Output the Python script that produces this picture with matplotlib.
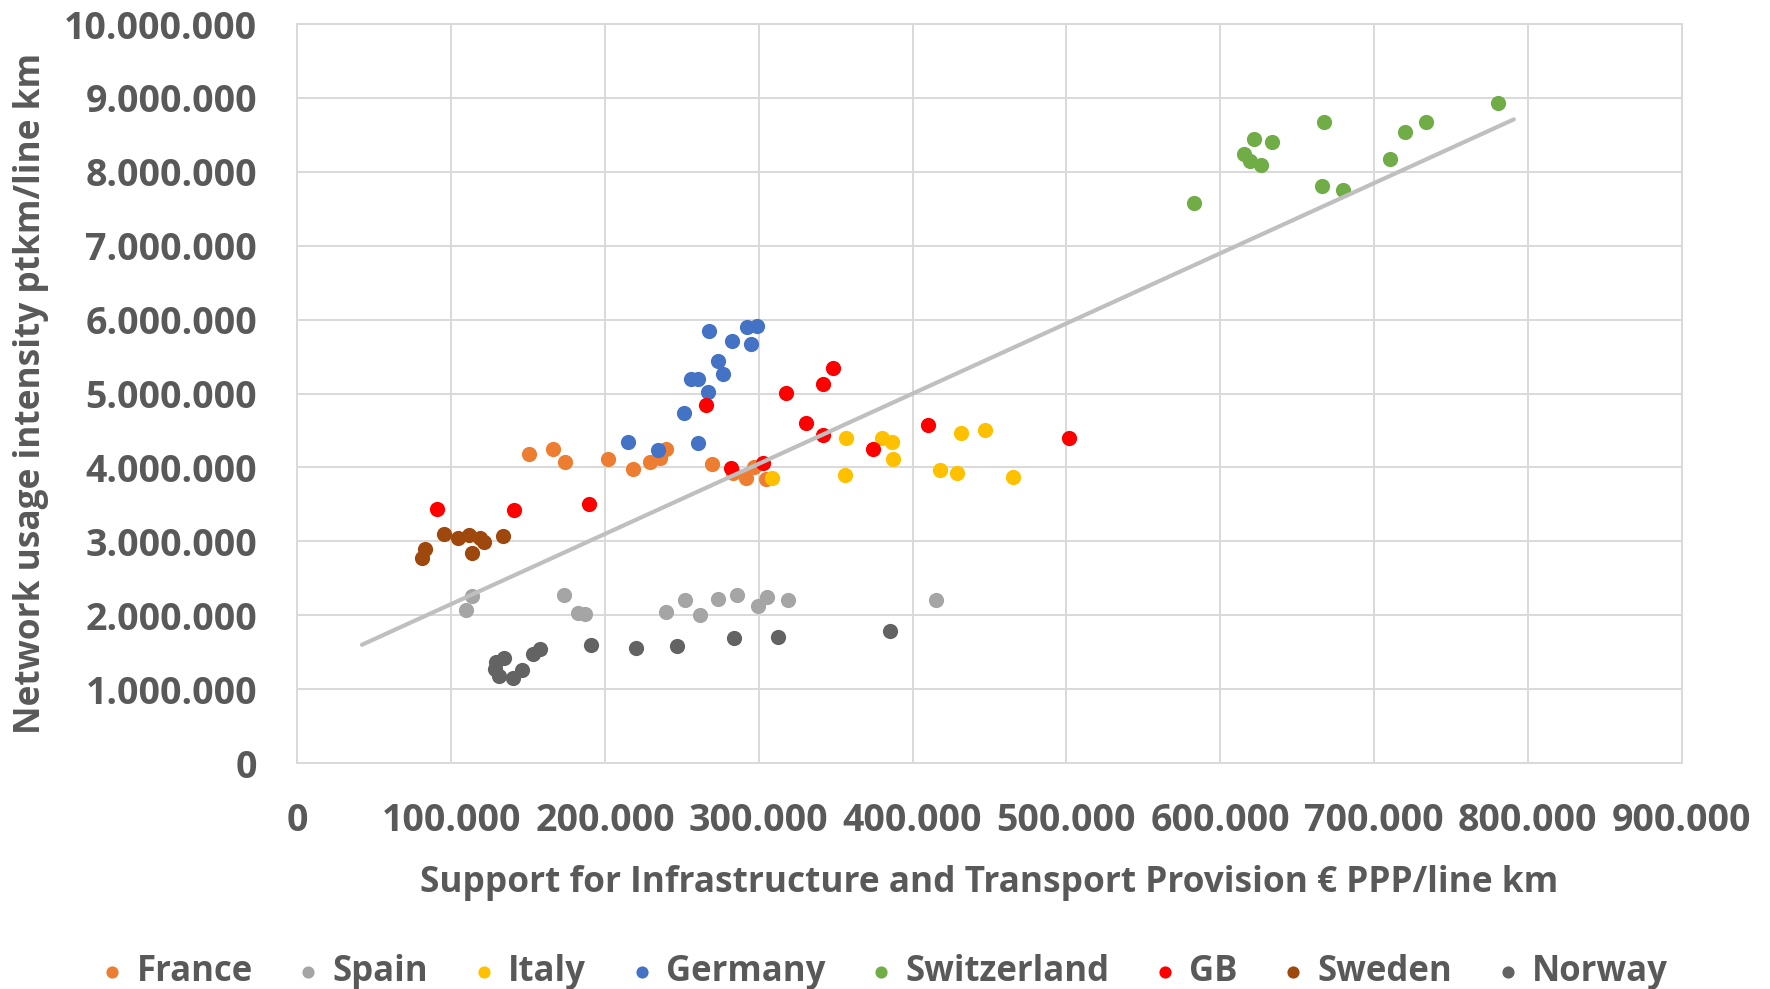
import matplotlib
matplotlib.use("Agg")
import matplotlib.pyplot as plt
from matplotlib.ticker import FuncFormatter, MultipleLocator

# values (x: € PPP/line km, y: ptkm/line km)
france_x = [150600, 166000, 173800, 202200, 218200, 229400, 235600, 239700,
            269500, 283000, 292000, 297000, 305000]
france_y = [4180000, 4245000, 4080000, 4110000, 3980000, 4080000, 4130000, 4250000,
            4050000, 3930000, 3860000, 4010000, 3840000]

spain_x = [113700, 109700, 173100, 182600, 186800, 239600, 252000, 261900,
           273400, 286100, 299300, 305500, 318900, 415200]
spain_y = [2260000, 2070000, 2270000, 2030000, 2020000, 2040000, 2200000, 2000000,
           2220000, 2270000, 2120000, 2250000, 2210000, 2210000]

italy_x = [308700, 356100, 356700, 380000, 386800, 387400, 417700, 428800,
           431800, 447000, 465400]
italy_y = [3860000, 3900000, 4400000, 4400000, 4340000, 4110000, 3960000, 3920000,
           4470000, 4500000, 3870000]

germany_x = [267700, 292600, 299100, 282300, 294800, 273200, 276800, 255800,
             260200, 266700, 251500, 214700, 260200, 234800]
germany_y = [5845000, 5900000, 5910000, 5710000, 5665000, 5440000, 5270000, 5190000,
             5190000, 5020000, 4740000, 4350000, 4330000, 4240000]

swiss_x = [582700, 615800, 619500, 622100, 626600, 633500, 667700, 666200,
           679700, 710200, 720100, 734000, 780700]
swiss_y = [7580000, 8240000, 8150000, 8440000, 8090000, 8410000, 8670000, 7810000,
           7760000, 8180000, 8540000, 8680000, 8930000]

gb_x = [90700, 140700, 189800, 266000, 282000, 303000, 317500, 330500,
        341500, 342000, 348000, 374300, 410200, 501500]
gb_y = [3440000, 3420000, 3510000, 4850000, 3990000, 4060000, 5010000, 4600000,
        5130000, 4440000, 5350000, 4250000, 4570000, 4400000]

sweden_x = [81000, 83000, 95600, 104500, 111300, 118900, 121200, 113400, 133500]
sweden_y = [2775000, 2895000, 3100000, 3045000, 3085000, 3045000, 2990000, 2840000, 3070000]

norway_x = [128400, 130800, 129100, 134600, 140000, 145800, 153200, 157500,
            190800, 219900, 246800, 284100, 312400, 385100]
norway_y = [1270000, 1180000, 1365000, 1420000, 1145000, 1260000, 1480000, 1540000,
            1600000, 1560000, 1580000, 1690000, 1710000, 1780000]

trend_x = [42000, 791000]
trend_y = [1600000, 8710000]

series = [
    ("France", france_x, france_y, "#ED7D31"),
    ("Spain", spain_x, spain_y, "#A5A5A5"),
    ("Italy", italy_x, italy_y, "#FFC000"),
    ("Germany", germany_x, germany_y, "#4472C4"),
    ("Switzerland", swiss_x, swiss_y, "#70AD47"),
    ("GB", gb_x, gb_y, "#FF0000"),
    ("Sweden", sweden_x, sweden_y, "#9E480E"),
    ("Norway", norway_x, norway_y, "#636363"),
]

text_color = "#595959"
grid_color = "#D9D9D9"

plt.rcParams["font.family"] = ["Open Sans", "DejaVu Sans"]
plt.rcParams["font.weight"] = "bold"

fig = plt.figure(figsize=(17.7, 9.89), dpi=100)
ax = fig.add_axes([0.168, 0.2285, 0.782, 0.7472])

for name, xs, ys, color in series:
    ax.scatter(xs, ys, s=120, color=color, label=name, linewidths=0, zorder=3)

ax.plot(trend_x, trend_y, color="#BFBFBF", linewidth=3, zorder=4,
        solid_capstyle="round")

ax.set_xlim(0, 900000)
ax.set_ylim(0, 10000000)
ax.xaxis.set_major_locator(MultipleLocator(100000))
ax.yaxis.set_major_locator(MultipleLocator(1000000))

fmt = FuncFormatter(lambda v, p: f"{int(round(v)):,}".replace(",", "."))
ax.xaxis.set_major_formatter(fmt)
ax.yaxis.set_major_formatter(fmt)

ax.grid(True, color=grid_color, linewidth=1.4, zorder=0)
ax.set_axisbelow(True)
for sp in ax.spines.values():
    sp.set_color(grid_color)
    sp.set_linewidth(1.4)

ax.tick_params(axis="both", length=0, labelsize=27, labelcolor=text_color)
ax.tick_params(axis="x", pad=28)
ax.tick_params(axis="y", pad=29)
for lab in ax.get_xticklabels() + ax.get_yticklabels():
    lab.set_fontweight("bold")

ax.set_xlabel("Support for Infrastructure and Transport Provision € PPP/line km",
              fontsize=25.4, fontweight="bold", color=text_color, labelpad=18)
ax.set_ylabel("Network usage intensity ptkm/line km",
              fontsize=25.4, fontweight="bold", color=text_color, labelpad=11)

leg = fig.legend(loc="lower center", bbox_to_anchor=(0.5, -0.033), ncol=8,
                 frameon=False, fontsize=25, handlelength=0.6, handletextpad=0.4,
                 columnspacing=1.3, markerscale=0.8, scatterpoints=1)
for t in leg.get_texts():
    t.set_color(text_color)
    t.set_fontweight("bold")

fig.savefig("out.png", dpi=100)
